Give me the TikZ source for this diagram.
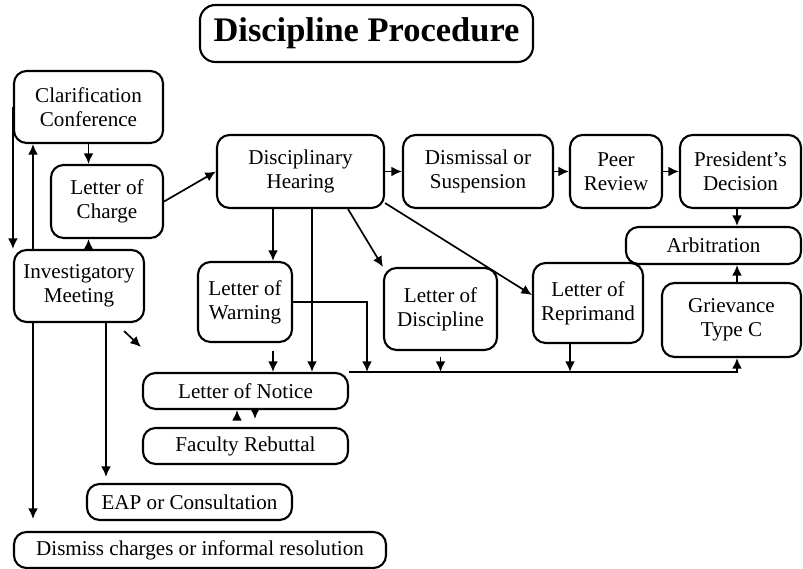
\documentclass[tikz,border=0pt]{standalone}
\usepackage{fontspec}
\setmainfont{Liberation Serif}
\usetikzlibrary{arrows.meta}

\begin{document}
\begin{tikzpicture}[
  x=0.025cm,
  y=-0.025cm,
  >={Latex[length=7.5pt,width=7pt]},
  box/.style={
    draw,
    line width=1.5pt,
    rounded corners=9pt,
    align=center,
    inner sep=0pt,
    font=\fontsize{15}{17}\selectfont
  },
  title box/.style={
    box,
    rounded corners=11pt,
    font=\fontsize{24.5}{28}\selectfont\bfseries
  },
  link/.style={
    ->,
    line width=1.2pt
  },
]
\useasboundingbox (0,0) rectangle (803,569);
\node[title box, minimum width=8.325cm, minimum height=1.425cm] (title) at (366.5,33.5) {Discipline Procedure};

\node[box, minimum width=3.725cm, minimum height=1.8cm] (clar) at (88.5,107) {Clarification\\Conference};
\node[box, minimum width=2.8cm, minimum height=1.825cm] (charge) at (107,201.5) {Letter of\\Charge};
\node[box, minimum width=3.25cm, minimum height=1.8cm] (inv) at (79,286) {Investigatory\\Meeting};
\node[box, minimum width=4.175cm, minimum height=1.825cm] (hear) at (300.5,171.5) {Disciplinary\\Hearing};
\node[box, minimum width=3.75cm, minimum height=1.825cm] (dism) at (478,171.5) {Dismissal or\\Suspension};
\node[box, minimum width=2.3cm, minimum height=1.825cm] (peer) at (616,171.5) {Peer\\Review};
\node[box, minimum width=3.025cm, minimum height=1.825cm] (pres) at (740.5,171.5) {President's\\Decision};
\node[box, minimum width=4.375cm, minimum height=0.925cm] (arb) at (713.5,245.5) {Arbitration};
\node[box, minimum width=3.475cm, minimum height=1.85cm] (griev) at (731.5,320) {Grievance\\Type C};
\node[box, minimum width=2.75cm, minimum height=2cm] (repr) at (588,303) {Letter of\\Reprimand};
\node[box, minimum width=2.825cm, minimum height=2.05cm] (disc) at (440.5,309) {Letter of\\Discipline};
\node[box, minimum width=2.35cm, minimum height=2cm] (warn) at (245,302) {Letter of\\Warning};
\node[box, minimum width=5.125cm, minimum height=0.9cm] (notice) at (245.5,391) {Letter of Notice};
\node[box, minimum width=5.125cm, minimum height=0.9cm] (rebut) at (245.5,446) {Faculty Rebuttal};
\node[box, minimum width=5.125cm, minimum height=0.9cm] (eap) at (189.5,502) {EAP or Consultation};
\node[box, minimum width=9.3cm, minimum height=0.9cm] (dismiss) at (200,550) {Dismiss charges or informal resolution};

\draw[link] (clar.south) -- (clar.south |- charge.north);
\draw[link] (clar.west) -- (clar.west |- inv.north);
\draw[link] (33,0 |- inv.north) -- (33,0 |- clar.south);
\draw[link] (clar.south |- inv.north) -- (clar.south |- charge.south);
\draw[link] (charge.east) -- (hear.west);
\draw[link] (hear.east) -- (dism.west);
\draw[link] (dism.east) -- (peer.west);
\draw[link] (peer.east) -- (pres.west);
\draw[link] (737,0 |- pres.south) -- (737,0 |- arb.north);
\draw[link] (737,0 |- griev.north) -- (737,0 |- arb.south);
\draw[link] (273,0 |- hear.south) -- (273,0 |- warn.north);
\draw[link] (312,0 |- hear.south) -- (312,0 |- notice.north);
\draw[link] (348,0 |- hear.south) -- (disc.north west);
\draw[link] ([yshift=0.15cm]hear.south east) -- ([yshift=0.2cm]repr.west);
\draw[link, shorten <=0.2cm] (273,0 |- warn.south) -- (273,0 |- notice.north);
\draw[link] (warn.east) -| (367,0 |- notice.north);
\draw[link] (notice.north east) -| (737,0 |- griev.south);
\draw[link, shorten <=0.15cm] (disc.south) -- (disc.south |- notice.north);
\draw[link] (570,0 |- repr.south) -- (570,0 |- notice.north);
\draw[link, shorten >=0.3cm] (33,0 |- inv.south) -- (33,0 |- dismiss.north);
\draw[link, shorten >=0.15cm] (106,0 |- inv.south) -- (106,0 |- eap.north);
\draw[link] ([shift={(-21,8)}]inv.south east) -- ([shift={(-1,-25)}]notice.north west);
\draw[link, shorten <=0.25cm] (237,0 |- rebut.north) -- (237,0 |- notice.south);
\draw[link, shorten >=0.2cm] (255,0 |- notice.south) -- (255,0 |- rebut.north);
\end{tikzpicture}
\end{document}
